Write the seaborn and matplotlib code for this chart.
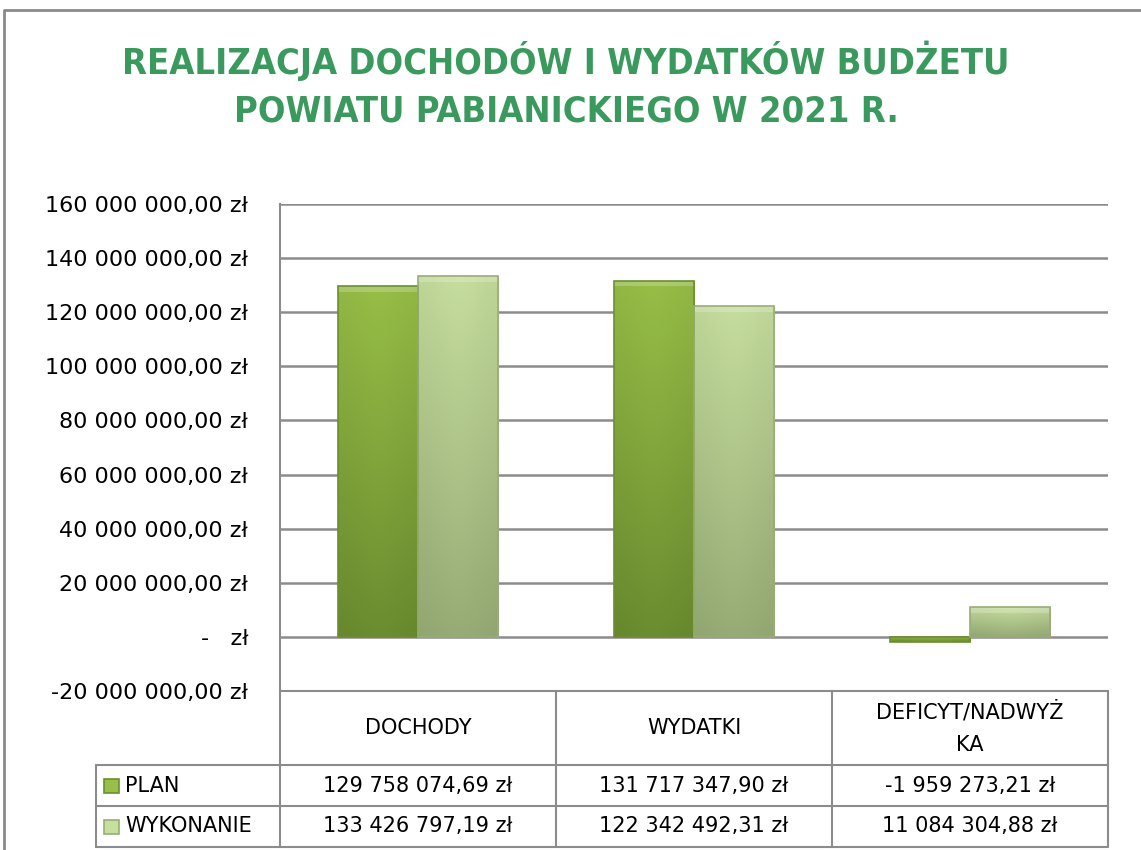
import numpy as np
import pandas as pd
import matplotlib
matplotlib.use("Agg")
import matplotlib.pyplot as plt
import matplotlib.patches as mpatches
import matplotlib.lines as mlines
import seaborn as sns

# --- data ---------------------------------------------------------------
categories = ["DOCHODY", "WYDATKI", "DEFICYT/NADWYŻKA"]
header_labels = ["DOCHODY", "WYDATKI", "DEFICYT/NADWYŻ\nKA"]
series = ["PLAN", "WYKONANIE"]
plan = [129758074.69, 131717347.90, -1959273.21]
wykonanie = [133426797.19, 122342492.31, 11084304.88]
y_ticks = [-20e6, 0, 20e6, 40e6, 60e6, 80e6, 100e6, 120e6, 140e6, 160e6]
title = "REALIZACJA DOCHODÓW I WYDATKÓW BUDŻETU\nPOWIATU PABIANICKIEGO W 2021 R."

TITLE_COLOR = "#3A9A5E"
GRID_COLOR = "#8C8C8C"
PLAN_TOP, PLAN_BOT = "#98BF47", "#6C8D30"
WYK_TOP, WYK_BOT = "#C6DE9E", "#98AD76"

sns.set_theme(style="white")
plt.rcParams["font.family"] = ["DejaVu Sans"]
plt.rcParams["text.color"] = "black"
plt.rcParams["ytick.color"] = "black"


def pln(v):
    if v == 0:
        return "-   zł"
    s = f"{v:,.2f}".replace(",", " ").replace(".", ",")
    return s + " zł"


df = pd.DataFrame({
    "kategoria": categories * 2,
    "seria": [series[0]] * 3 + [series[1]] * 3,
    "wartosc": plan + wykonanie,
})

W, H = 1141, 850
fig = plt.figure(figsize=(W / 100, H / 100), dpi=100)
fig.patch.set_facecolor("white")

def fx(px):
    return px / W

def fy(py):
    return 1 - py / H

ax_l, ax_r, ax_t, ax_b = 280, 1108, 204, 691
ax = fig.add_axes([fx(ax_l), fy(ax_b), fx(ax_r - ax_l), fy(ax_t) - fy(ax_b)])

sns.barplot(data=df, x="kategoria", y="wartosc", hue="seria",
            palette=[PLAN_TOP, WYK_TOP], width=0.58, gap=0,
            legend=False, ax=ax, zorder=3)

ax.set_xlim(-0.5, 2.5)
ax.set_ylim(y_ticks[0], y_ticks[-1])
ax.set_yticks(y_ticks)
ax.set_yticklabels([pln(v) for v in y_ticks], fontsize=16)
ax.set_xticks([])
ax.set_xlabel("")
ax.set_ylabel("")
ax.tick_params(axis="y", length=0, pad=23, labelcolor="black")
ax.yaxis.grid(True, color=GRID_COLOR, lw=1.8)
ax.set_axisbelow(True)
for s in ["top", "right", "bottom"]:
    ax.spines[s].set_visible(False)
ax.spines["left"].set_color(GRID_COLOR)
ax.spines["left"].set_linewidth(1.5)

# gradient fill on every bar, with a light bevel strip on top
tops = {0: (PLAN_TOP, PLAN_BOT), 1: (WYK_TOP, WYK_BOT)}
for i, patch in enumerate(list(ax.patches)):
    if not isinstance(patch, mpatches.Rectangle) or patch.get_width() == 0:
        continue
    c_top, c_bot = tops[0 if i < len(categories) else 1]
    x0, y0 = patch.get_x(), patch.get_y()
    w, h = patch.get_width(), patch.get_height()
    lo, hi = min(y0, y0 + h), max(y0, y0 + h)
    ct = np.array(matplotlib.colors.to_rgb(c_top))
    cb = np.array(matplotlib.colors.to_rgb(c_bot))
    t = np.linspace(0, 1, 64)[:, None]
    grad = (ct * (1 - t) + cb * t)[:, None, :].repeat(8, axis=1)
    side = 1 - 0.04 * np.abs(np.linspace(-1, 1, 8))[None, :, None]
    img = ax.imshow(grad * side, extent=[x0, x0 + w, lo, hi], origin="upper",
                    aspect="auto", zorder=3.5, interpolation="bicubic")
    img.set_clip_path(patch)
    if hi - lo > 3e6:
        bevel = mpatches.Rectangle((x0, hi - 2.2e6), w, 2.2e6, facecolor="white",
                                   alpha=0.22, lw=0, zorder=3.8)
        ax.add_patch(bevel)
    patch.set_edgecolor(c_bot)
    patch.set_linewidth(1.2)
    patch.set_zorder(4)
    patch.set_facecolor("none")
ax.set_xlim(-0.5, 2.5)
ax.set_ylim(y_ticks[0], y_ticks[-1])

# --- data table ---------------------------------------------------------
col_x = [280, 556, 832, 1108]
row_y = [691, 765, 806, 847]
leg_l = 96
lw = 1.5

def hline(x0, x1, y):
    fig.add_artist(mlines.Line2D([fx(x0), fx(x1)], [fy(y), fy(y)],
                                 color=GRID_COLOR, lw=lw))

def vline(x, y0, y1):
    fig.add_artist(mlines.Line2D([fx(x), fx(x)], [fy(y0), fy(y1)],
                                 color=GRID_COLOR, lw=lw))

for x in col_x:
    vline(x, row_y[0], row_y[-1])
vline(leg_l, row_y[1], row_y[-1])
hline(col_x[0], col_x[-1], row_y[0])
for y in row_y[1:]:
    hline(leg_l, col_x[-1], y)

for j, lab in enumerate(header_labels):
    cx = (col_x[j] + col_x[j + 1]) / 2
    fig.text(fx(cx), fy((row_y[0] + row_y[1]) / 2), lab, ha="center",
             va="center", fontsize=15, linespacing=1.75, color="black")

for r, (name, vals, colors) in enumerate([(series[0], plan, (PLAN_TOP, PLAN_BOT)),
                                          (series[1], wykonanie, (WYK_TOP, WYK_BOT))]):
    cy = (row_y[r + 1] + row_y[r + 2]) / 2
    fig.add_artist(mpatches.Rectangle((fx(104), fy(cy + 7)), fx(15), fy(cy - 7) - fy(cy + 7),
                                      facecolor=colors[0], edgecolor=colors[1], lw=1.2))
    fig.text(fx(125), fy(cy), name, ha="left", va="center", fontsize=15)
    for j, v in enumerate(vals):
        cx = (col_x[j] + col_x[j + 1]) / 2
        fig.text(fx(cx), fy(cy), pln(v), ha="center", va="center", fontsize=15)

# --- title and outer frame ---------------------------------------------
fig.text(fx(566), fy(85), title, ha="center", va="center", fontsize=26,
         fontweight="bold", fontstretch="condensed", color=TITLE_COLOR,
         linespacing=1.5)
fig.add_artist(mlines.Line2D([fx(4), fx(4), fx(1141)], [0, fy(10), fy(10)],
                             color="#8A8A8A", lw=2))

fig.savefig("out.png", dpi=100, facecolor="white")
